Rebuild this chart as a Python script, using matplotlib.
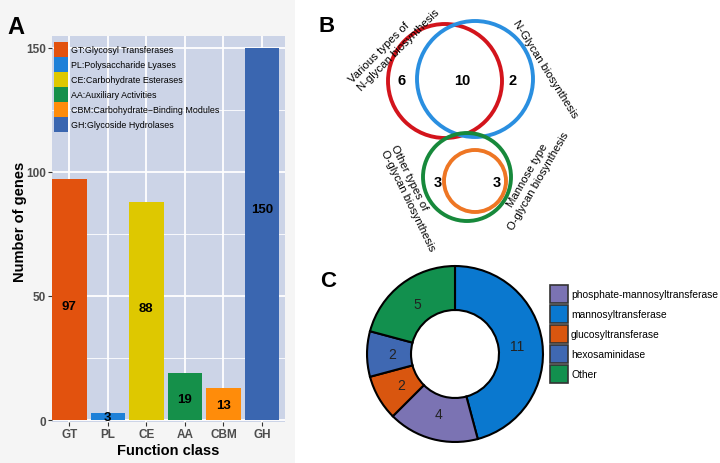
import matplotlib
matplotlib.use('Agg')
import matplotlib.pyplot as plt
from matplotlib.patches import Circle, Patch, Rectangle
import numpy as np

plt.rcParams['font.family'] = ['Liberation Sans', 'DejaVu Sans']

# ---- data ----
# panel A: CAZy classes
classes = ['GT', 'PL', 'CE', 'AA', 'CBM', 'GH']
class_names = ['GT:Glycosyl Transferases', 'PL:Polysaccharide Lyases',
               'CE:Carbohydrate Esterases', 'AA:Auxiliary Activities',
               'CBM:Carbohydrate\u2212Binding Modules', 'GH:Glycoside Hydrolases']
gene_counts = [97, 3, 88, 19, 13, 150]
class_colors = ['#E2520E', '#1E80D8', '#DEC800', '#15904A', '#FF8C0A', '#3A66B0']

# panel B: venn counts (only red, overlap, only blue, only green, orange)
venn_sets = ['Various types of\nN-glycan biosynthesis', 'N-Glycan biosynthesis',
             'Other types of\nO-glycan biosynthesis', 'Mannose type\nO-glycan biosynthesis']
venn_counts = [6, 10, 2, 3, 3]

# panel C: donut
enzymes = ['phosphate-mannosyltransferase', 'mannosyltransferase',
           'glucosyltransferase', 'hexosaminidase', 'Other']
enzyme_counts = [4, 11, 2, 2, 5]
enzyme_colors = ['#7B73B3', '#0A78CF', '#D9560F', '#3F68B2', '#12904E']

W, H = 720, 464
fig = plt.figure(figsize=(W / 100, H / 100), dpi=100)
fig.patch.set_facecolor('white')


def px(x, y):
    # pixel (top-left origin) -> figure fraction
    return x / W, 1 - y / H


def box(x0, y0, x1, y1):
    return [x0 / W, 1 - y1 / H, (x1 - x0) / W, (y1 - y0) / H]


# light grey background behind panel A
fig.patches.append(Rectangle((0, 0), 295 / W, 1, transform=fig.transFigure,
                             facecolor='#F5F5F5', edgecolor='none', zorder=-10))

# ---- panel A ----
ax = fig.add_axes(box(52, 37, 285, 423))
ax.set_facecolor('#CCD4E7')
x = np.arange(len(classes))
ax.bar(x, gene_counts, width=0.9, color=class_colors, zorder=3)
ax.set_xlim(-0.45, 5.6)
ax.set_ylim(-0.8, 154.8)
ax.set_yticks([0, 50, 100, 150])
ax.set_yticks([25, 75, 125], minor=True)
ax.set_xticks(x)
ax.set_xticklabels(classes)
ax.grid(which='major', color='white', lw=1.3, zorder=1)
ax.grid(which='minor', axis='y', color='white', lw=0.6, zorder=1)
for s in ax.spines.values():
    s.set_visible(False)
ax.tick_params(axis='both', which='major', length=3, width=0.8, color='#333333',
               labelcolor='#4D4D4D', labelsize=8.5, pad=1.5)
ax.tick_params(which='minor', length=0)
for t in ax.get_xticklabels() + ax.get_yticklabels():
    t.set_fontweight('bold')
ax.set_ylabel('Number of genes', fontsize=10.5, fontweight='bold', labelpad=3)
ax.yaxis.set_label_coords(-0.108, 0.52)
ax.set_xlabel('Function class', fontsize=10.5, fontweight='bold', labelpad=2)

label_y = [46, 1.3, 45, 8.5, 6, 85]
for i, v in enumerate(gene_counts):
    ax.text(x[i], label_y[i], str(v), ha='center', va='center',
            fontsize=9.5, fontweight='bold', color='black', zorder=4)

handles_a = [Patch(facecolor=c, edgecolor='none') for c in class_colors]
ax.legend(handles_a, class_names, loc='upper left', bbox_to_anchor=(0.009, 0.984),
          frameon=False, fontsize=6.4, handlelength=1.6, handleheight=2.22,
          labelspacing=0, handletextpad=0.3, borderpad=0, borderaxespad=0)

fig.text(*px(7, 27), 'A', fontsize=17, fontweight='bold', va='center', ha='left')

# ---- panel B: venn ----
axb = fig.add_axes(box(330, 0, 600, 255))
axb.set_xlim(330, 600)
axb.set_ylim(255, 0)
axb.axis('off')
circles = [((445, 82), 57, '#D3141C'), ((475, 80), 58, '#2A8FE0'),
           ((467, 178), 44, '#17893B'), ((475, 182), 31, '#EE7624')]
for (cx, cy), r, c in circles:
    axb.add_patch(Circle((cx, cy), r, fill=False, edgecolor=c, lw=2.8))

count_pos = [(402, 81), (462, 81), (513, 81), (438, 183), (497, 183)]
for (tx, ty), n in zip(count_pos, venn_counts):
    axb.text(tx, ty, str(n), ha='center', va='center', fontsize=10.5, fontweight='bold')

set_layout = [((394, 46), 45, 'left'), ((545, 69), -58, 'center'),
              ((413, 198), -64, 'left'), ((533, 178), 60, 'center')]
for name, ((tx, ty), rot, al) in zip(venn_sets, set_layout):
    axb.text(tx, ty, name, rotation=rot, rotation_mode='anchor', ha='center',
             va='center', multialignment=al, fontsize=8.2, linespacing=1.2)

fig.text(*px(319, 26), 'B', fontsize=16, fontweight='bold', va='center', ha='left')

# ---- panel C: donut ----
axc = fig.add_axes(box(365, 265, 545, 445))
order = [1, 0, 2, 3, 4]
vals = [enzyme_counts[i] for i in order]
cols = [enzyme_colors[i] for i in order]
wedges, _ = axc.pie(vals, colors=cols, startangle=90, counterclock=False,
                    radius=1, wedgeprops=dict(width=0.5, edgecolor='black', linewidth=1.5))
for w, v in zip(wedges, vals):
    ang = np.deg2rad((w.theta1 + w.theta2) / 2)
    axc.text(0.71 * np.cos(ang), 0.71 * np.sin(ang), str(v), ha='center', va='center',
             fontsize=10, color='#222222')
axc.set_xlim(-1.023, 1.023)
axc.set_ylim(-1.023, 1.023)
axc.set_aspect('equal')

handles_c = [Patch(facecolor=c, edgecolor='#333333', lw=1.2) for c in enzyme_colors]
fig.legend(handles_c, enzymes, loc='upper left', bbox_to_anchor=px(550, 286),
           frameon=False, fontsize=7.4, handlelength=1.75, handleheight=2.32,
           labelspacing=0.2, handletextpad=0.3, borderpad=0, borderaxespad=0)

fig.text(*px(320, 282), 'C', fontsize=16, fontweight='bold', va='center', ha='left')

fig.savefig('out.png', dpi=100)
